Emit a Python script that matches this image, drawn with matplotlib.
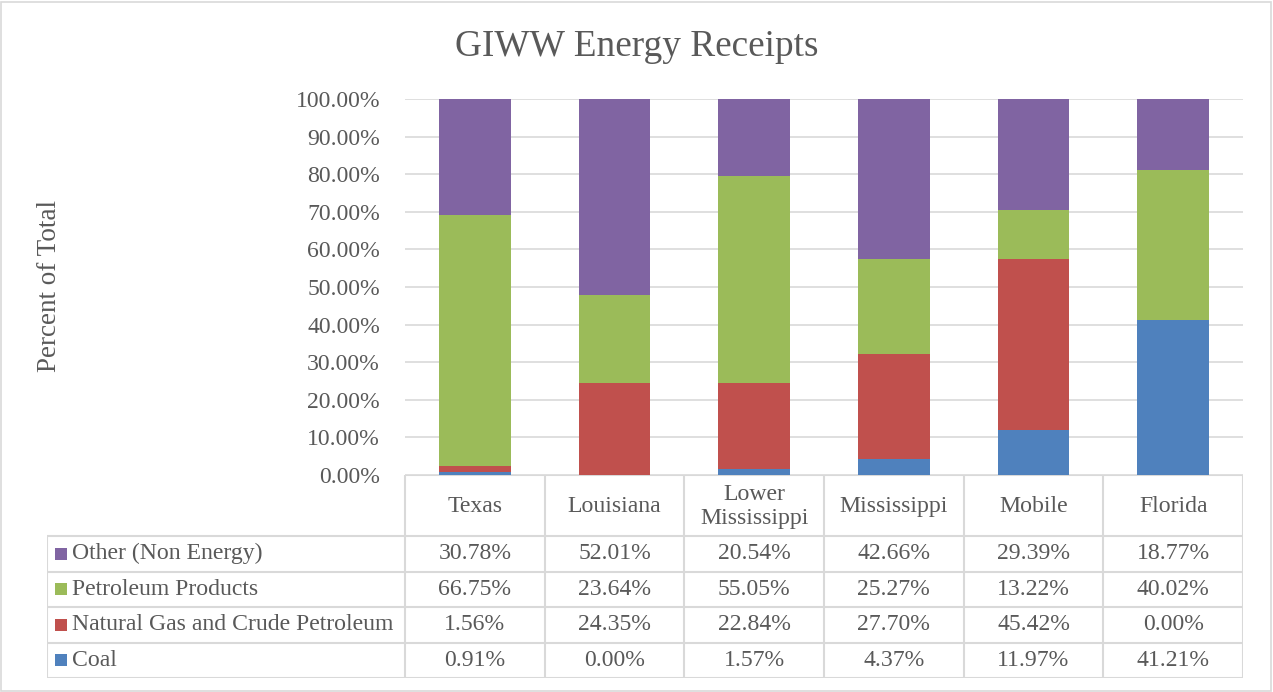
import matplotlib
matplotlib.use("Agg")
import matplotlib.pyplot as plt
from matplotlib.patches import Rectangle
import numpy as np

plt.rcParams['font.family'] = ['Liberation Serif', 'DejaVu Serif']

categories = ["Texas", "Louisiana", "Lower\nMississippi", "Mississippi", "Mobile", "Florida"]
series_names = ["Other (Non Energy)", "Petroleum Products", "Natural Gas and Crude Petroleum", "Coal"]
other = [30.78, 52.01, 20.54, 42.66, 29.39, 18.77]
petroleum = [66.75, 23.64, 55.05, 25.27, 13.22, 40.02]
natgas = [1.56, 24.35, 22.84, 27.70, 45.42, 0.00]
coal = [0.91, 0.00, 1.57, 4.37, 11.97, 41.21]
colors = {"Other (Non Energy)": "#8064A2", "Petroleum Products": "#9BBB59",
          "Natural Gas and Crude Petroleum": "#C0504D", "Coal": "#4F81BD"}
yticks = [0, 10, 20, 30, 40, 50, 60, 70, 80, 90, 100]

W, H = 1273, 692
fig = plt.figure(figsize=(W / 100, H / 100), dpi=100)
txt = "#595959"
grid = "#D9D9D9"
fs = 17.1

# outer border
fig.patches.append(Rectangle((1 / W, 1 / H), 1 - 3 / W, 1 - 3 / H, transform=fig.transFigure,
                             fill=False, edgecolor=grid, lw=1.2))

pl, pr, pt, pb = 405, 1243, 99, 475
ax = fig.add_axes([pl / W, (H - pb) / H, (pr - pl) / W, (pb - pt) / H])
x = np.arange(len(categories))
bw = 0.515
bottom = np.zeros(len(categories))
stack = [("Coal", coal), ("Natural Gas and Crude Petroleum", natgas),
         ("Petroleum Products", petroleum), ("Other (Non Energy)", other)]
for name, vals in stack:
    v = np.array(vals)
    ax.bar(x, v, bw, bottom=bottom, color=colors[name], zorder=3)
    bottom += v
ax.set_xlim(-0.5, len(categories) - 0.5)
ax.set_ylim(0, 100)
ax.set_yticks(yticks)
ax.set_yticklabels([f"{t:.2f}%" for t in yticks], fontsize=fs, color=txt)
ax.tick_params(axis='y', length=0, pad=18)
ax.set_xticks([])
ax.yaxis.grid(True, color=grid, lw=1.2, zorder=0)
for s in ax.spines.values():
    s.set_visible(False)

fig.text(637 / W, (H - 47) / H, "GIWW Energy Receipts", ha='center', va='center', fontsize=26.8, color=txt)
fig.text(50 / W, (H - 286) / H, "Percent of Total", rotation=90, ha='center', va='center',
         fontsize=19.5, color=txt)

# data table
tl, tb = 47, 678
pxu = (pr - pl) / len(categories)
xl = -0.5 - (pl - tl) / pxu
tax = fig.add_axes([tl / W, (H - tb) / H, (pr - tl) / W, (tb - pb) / H])
tax.set_xlim(xl, len(categories) - 0.5)
rows = [0, 61, 96.5, 132, 167.5, 203]
tax.set_ylim(rows[-1], 0)
tax.axis('off')
lc = dict(color=grid, lw=1.5, solid_capstyle='butt')
tax.plot([-0.5, len(categories) - 0.5], [0, 0], **lc)
for r in rows[1:]:
    tax.plot([xl, len(categories) - 0.5], [r, r], **lc)
for i in range(len(categories) + 1):
    tax.plot([i - 0.5, i - 0.5], [0, rows[-1]], **lc)
tax.plot([xl, xl], [rows[1], rows[-1]], **lc)

for i, c in enumerate(categories):
    tax.text(i, rows[1] / 2 + 1, c, ha='center', va='center', fontsize=fs, color=txt, linespacing=1.15)

table_series = [other, petroleum, natgas, coal]
for j, (name, vals) in enumerate(zip(series_names, table_series)):
    yc = (rows[j + 1] + rows[j + 2]) / 2
    tax.plot([xl + 14 / pxu], [yc], marker='s', ms=8.5, color=colors[name], mew=0)
    tax.text(xl + 25 / pxu, yc, name, ha='left', va='center', fontsize=fs, color=txt)
    for i, v in enumerate(vals):
        tax.text(i, yc, f"{v:.2f}%", ha='center', va='center', fontsize=fs, color=txt)

fig.savefig("out.png", dpi=100)
